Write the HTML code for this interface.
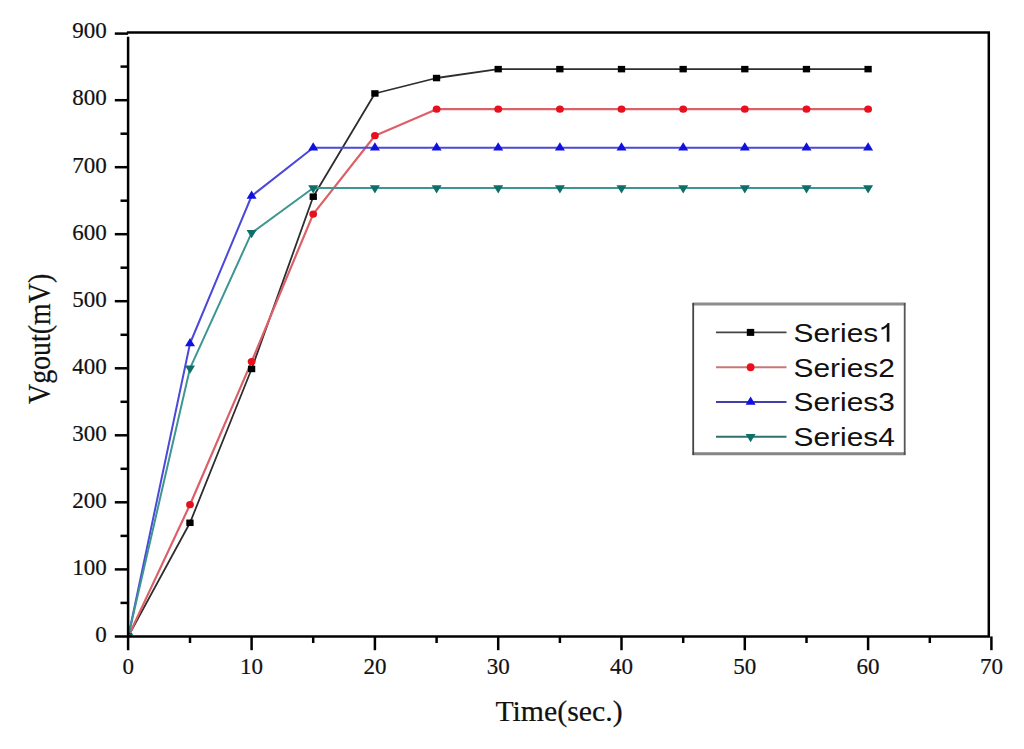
<!DOCTYPE html><html><head><meta charset="utf-8"><style>
html,body{margin:0;padding:0;background:#fff;width:1024px;height:749px;overflow:hidden}
svg{display:block}
.s{font-family:"Liberation Serif",serif;fill:#111;stroke:#111;stroke-width:0.2px}
.a{font-family:"Liberation Sans",sans-serif;fill:#111}
</style></head><body>
<svg width="1024" height="749" viewBox="0 0 1024 749">
<rect width="1024" height="749" fill="#fff"/>
<defs><clipPath id="pc"><rect x="128.1" y="32.5" width="860.7" height="603.9"/></clipPath></defs>
<g clip-path="url(#pc)">
<polyline points="128.3,636.4 190.0,522.8 251.6,369.0 313.2,196.7 374.9,93.5 436.6,78.0 498.2,69.1 559.9,69.1 621.5,69.1 683.2,69.1 744.8,69.1 806.5,69.1 868.1,69.1" fill="none" stroke="#2e2e2e" stroke-width="1.8" stroke-linejoin="round"/>
<polyline points="128.3,636.4 190.0,504.7 251.6,361.6 313.2,214.1 374.9,135.7 436.6,109.2 498.2,109.2 559.9,109.2 621.5,109.2 683.2,109.2 744.8,109.2 806.5,109.2 868.1,109.2" fill="none" stroke="#dc6068" stroke-width="2.2" stroke-linejoin="round"/>
<polyline points="128.3,636.4 190.0,343.5 251.6,196.0 313.2,147.8 374.9,147.8 436.6,147.8 498.2,147.8 559.9,147.8 621.5,147.8 683.2,147.8 744.8,147.8 806.5,147.8 868.1,147.8" fill="none" stroke="#4c48da" stroke-width="2.0" stroke-linejoin="round"/>
<polyline points="128.3,636.4 190.0,368.3 251.6,232.9 313.2,188.0 374.9,188.0 436.6,188.0 498.2,188.0 559.9,188.0 621.5,188.0 683.2,188.0 744.8,188.0 806.5,188.0 868.1,188.0" fill="none" stroke="#3e9692" stroke-width="2.0" stroke-linejoin="round"/>
<rect x="124.65" y="633.15" width="7.3" height="6.5" fill="#000"/>
<rect x="186.30" y="519.53" width="7.3" height="6.5" fill="#000"/>
<rect x="247.95" y="365.70" width="7.3" height="6.5" fill="#000"/>
<rect x="309.60" y="193.43" width="7.3" height="6.5" fill="#000"/>
<rect x="371.25" y="90.21" width="7.3" height="6.5" fill="#000"/>
<rect x="432.90" y="74.79" width="7.3" height="6.5" fill="#000"/>
<rect x="494.55" y="65.88" width="7.3" height="6.5" fill="#000"/>
<rect x="556.20" y="65.88" width="7.3" height="6.5" fill="#000"/>
<rect x="617.85" y="65.88" width="7.3" height="6.5" fill="#000"/>
<rect x="679.50" y="65.88" width="7.3" height="6.5" fill="#000"/>
<rect x="741.15" y="65.88" width="7.3" height="6.5" fill="#000"/>
<rect x="802.80" y="65.88" width="7.3" height="6.5" fill="#000"/>
<rect x="864.45" y="65.88" width="7.3" height="6.5" fill="#000"/>
<ellipse cx="128.3" cy="636.4" rx="3.9" ry="3.6" fill="#e8101c"/>
<ellipse cx="190.0" cy="504.7" rx="3.9" ry="3.6" fill="#e8101c"/>
<ellipse cx="251.6" cy="361.6" rx="3.9" ry="3.6" fill="#e8101c"/>
<ellipse cx="313.2" cy="214.1" rx="3.9" ry="3.6" fill="#e8101c"/>
<ellipse cx="374.9" cy="135.7" rx="3.9" ry="3.6" fill="#e8101c"/>
<ellipse cx="436.6" cy="109.2" rx="3.9" ry="3.6" fill="#e8101c"/>
<ellipse cx="498.2" cy="109.2" rx="3.9" ry="3.6" fill="#e8101c"/>
<ellipse cx="559.9" cy="109.2" rx="3.9" ry="3.6" fill="#e8101c"/>
<ellipse cx="621.5" cy="109.2" rx="3.9" ry="3.6" fill="#e8101c"/>
<ellipse cx="683.2" cy="109.2" rx="3.9" ry="3.6" fill="#e8101c"/>
<ellipse cx="744.8" cy="109.2" rx="3.9" ry="3.6" fill="#e8101c"/>
<ellipse cx="806.5" cy="109.2" rx="3.9" ry="3.6" fill="#e8101c"/>
<ellipse cx="868.1" cy="109.2" rx="3.9" ry="3.6" fill="#e8101c"/>
<path d="M123.3,639.1L133.3,639.1L128.3,630.9Z" fill="#1010e0"/>
<path d="M185.0,346.2L195.0,346.2L190.0,338.0Z" fill="#1010e0"/>
<path d="M246.6,198.7L256.6,198.7L251.6,190.5Z" fill="#1010e0"/>
<path d="M308.2,150.5L318.2,150.5L313.2,142.3Z" fill="#1010e0"/>
<path d="M369.9,150.5L379.9,150.5L374.9,142.3Z" fill="#1010e0"/>
<path d="M431.6,150.5L441.6,150.5L436.6,142.3Z" fill="#1010e0"/>
<path d="M493.2,150.5L503.2,150.5L498.2,142.3Z" fill="#1010e0"/>
<path d="M554.9,150.5L564.9,150.5L559.9,142.3Z" fill="#1010e0"/>
<path d="M616.5,150.5L626.5,150.5L621.5,142.3Z" fill="#1010e0"/>
<path d="M678.2,150.5L688.2,150.5L683.2,142.3Z" fill="#1010e0"/>
<path d="M739.8,150.5L749.8,150.5L744.8,142.3Z" fill="#1010e0"/>
<path d="M801.5,150.5L811.5,150.5L806.5,142.3Z" fill="#1010e0"/>
<path d="M863.1,150.5L873.1,150.5L868.1,142.3Z" fill="#1010e0"/>
<path d="M123.3,633.7L133.3,633.7L128.3,641.9Z" fill="#0e6e68"/>
<path d="M185.0,365.5L195.0,365.5L190.0,373.7Z" fill="#0e6e68"/>
<path d="M246.6,230.1L256.6,230.1L251.6,238.3Z" fill="#0e6e68"/>
<path d="M308.2,185.2L318.2,185.2L313.2,193.4Z" fill="#0e6e68"/>
<path d="M369.9,185.2L379.9,185.2L374.9,193.4Z" fill="#0e6e68"/>
<path d="M431.6,185.2L441.6,185.2L436.6,193.4Z" fill="#0e6e68"/>
<path d="M493.2,185.2L503.2,185.2L498.2,193.4Z" fill="#0e6e68"/>
<path d="M554.9,185.2L564.9,185.2L559.9,193.4Z" fill="#0e6e68"/>
<path d="M616.5,185.2L626.5,185.2L621.5,193.4Z" fill="#0e6e68"/>
<path d="M678.2,185.2L688.2,185.2L683.2,193.4Z" fill="#0e6e68"/>
<path d="M739.8,185.2L749.8,185.2L744.8,193.4Z" fill="#0e6e68"/>
<path d="M801.5,185.2L811.5,185.2L806.5,193.4Z" fill="#0e6e68"/>
<path d="M863.1,185.2L873.1,185.2L868.1,193.4Z" fill="#0e6e68"/>
</g>
<line x1="126.9" y1="32.5" x2="990.0" y2="32.5" stroke="#000" stroke-width="2.5"/>
<line x1="988.8" y1="32.5" x2="988.8" y2="636.4" stroke="#000" stroke-width="2.5"/>
<line x1="114.8" y1="636.4" x2="990.0" y2="636.4" stroke="#000" stroke-width="2.5"/>
<line x1="128.1" y1="36.8" x2="128.1" y2="650.2" stroke="#000" stroke-width="2.5"/>
<line x1="114.8" y1="33.6" x2="128.1" y2="33.6" stroke="#000" stroke-width="2.5"/>
<line x1="120.5" y1="602.9" x2="128.1" y2="602.9" stroke="#000" stroke-width="2.5"/>
<line x1="114.8" y1="569.4" x2="128.1" y2="569.4" stroke="#000" stroke-width="2.5"/>
<line x1="120.5" y1="535.9" x2="128.1" y2="535.9" stroke="#000" stroke-width="2.5"/>
<line x1="114.8" y1="502.3" x2="128.1" y2="502.3" stroke="#000" stroke-width="2.5"/>
<line x1="120.5" y1="468.8" x2="128.1" y2="468.8" stroke="#000" stroke-width="2.5"/>
<line x1="114.8" y1="435.3" x2="128.1" y2="435.3" stroke="#000" stroke-width="2.5"/>
<line x1="120.5" y1="401.8" x2="128.1" y2="401.8" stroke="#000" stroke-width="2.5"/>
<line x1="114.8" y1="368.3" x2="128.1" y2="368.3" stroke="#000" stroke-width="2.5"/>
<line x1="120.5" y1="334.8" x2="128.1" y2="334.8" stroke="#000" stroke-width="2.5"/>
<line x1="114.8" y1="301.2" x2="128.1" y2="301.2" stroke="#000" stroke-width="2.5"/>
<line x1="120.5" y1="267.7" x2="128.1" y2="267.7" stroke="#000" stroke-width="2.5"/>
<line x1="114.8" y1="234.2" x2="128.1" y2="234.2" stroke="#000" stroke-width="2.5"/>
<line x1="120.5" y1="200.7" x2="128.1" y2="200.7" stroke="#000" stroke-width="2.5"/>
<line x1="114.8" y1="167.2" x2="128.1" y2="167.2" stroke="#000" stroke-width="2.5"/>
<line x1="120.5" y1="133.7" x2="128.1" y2="133.7" stroke="#000" stroke-width="2.5"/>
<line x1="114.8" y1="100.2" x2="128.1" y2="100.2" stroke="#000" stroke-width="2.5"/>
<line x1="120.5" y1="66.6" x2="128.1" y2="66.6" stroke="#000" stroke-width="2.5"/>
<text class="s" x="106.8" y="642.4" font-size="23" text-anchor="end">0</text>
<text class="s" x="106.8" y="575.2" font-size="23" text-anchor="end">100</text>
<text class="s" x="106.8" y="508.1" font-size="23" text-anchor="end">200</text>
<text class="s" x="106.8" y="441.0" font-size="23" text-anchor="end">300</text>
<text class="s" x="106.8" y="373.9" font-size="23" text-anchor="end">400</text>
<text class="s" x="106.8" y="306.8" font-size="23" text-anchor="end">500</text>
<text class="s" x="106.8" y="239.7" font-size="23" text-anchor="end">600</text>
<text class="s" x="106.8" y="172.6" font-size="23" text-anchor="end">700</text>
<text class="s" x="106.8" y="105.4" font-size="23" text-anchor="end">800</text>
<text class="s" x="106.8" y="38.3" font-size="23" text-anchor="end">900</text>
<line x1="190.0" y1="636.4" x2="190.0" y2="643.0" stroke="#000" stroke-width="2.5"/>
<line x1="251.6" y1="636.4" x2="251.6" y2="650.2" stroke="#000" stroke-width="2.5"/>
<line x1="313.2" y1="636.4" x2="313.2" y2="643.0" stroke="#000" stroke-width="2.5"/>
<line x1="374.9" y1="636.4" x2="374.9" y2="650.2" stroke="#000" stroke-width="2.5"/>
<line x1="436.6" y1="636.4" x2="436.6" y2="643.0" stroke="#000" stroke-width="2.5"/>
<line x1="498.2" y1="636.4" x2="498.2" y2="650.2" stroke="#000" stroke-width="2.5"/>
<line x1="559.9" y1="636.4" x2="559.9" y2="643.0" stroke="#000" stroke-width="2.5"/>
<line x1="621.5" y1="636.4" x2="621.5" y2="650.2" stroke="#000" stroke-width="2.5"/>
<line x1="683.2" y1="636.4" x2="683.2" y2="643.0" stroke="#000" stroke-width="2.5"/>
<line x1="744.8" y1="636.4" x2="744.8" y2="650.2" stroke="#000" stroke-width="2.5"/>
<line x1="806.5" y1="636.4" x2="806.5" y2="643.0" stroke="#000" stroke-width="2.5"/>
<line x1="868.1" y1="636.4" x2="868.1" y2="650.2" stroke="#000" stroke-width="2.5"/>
<line x1="929.8" y1="636.4" x2="929.8" y2="643.0" stroke="#000" stroke-width="2.5"/>
<line x1="991.4" y1="636.4" x2="991.4" y2="650.2" stroke="#000" stroke-width="2.5"/>
<text class="s" x="128.3" y="673.8" font-size="23" text-anchor="middle">0</text>
<text class="s" x="251.6" y="673.8" font-size="23" text-anchor="middle">10</text>
<text class="s" x="374.9" y="673.8" font-size="23" text-anchor="middle">20</text>
<text class="s" x="498.2" y="673.8" font-size="23" text-anchor="middle">30</text>
<text class="s" x="621.5" y="673.8" font-size="23" text-anchor="middle">40</text>
<text class="s" x="744.8" y="673.8" font-size="23" text-anchor="middle">50</text>
<text class="s" x="868.1" y="673.8" font-size="23" text-anchor="middle">60</text>
<text class="s" x="991.4" y="673.8" font-size="23" text-anchor="middle">70</text>
<text class="s" x="559" y="721.3" font-size="29.8" text-anchor="middle">Time(sec.)</text>
<text class="s" transform="translate(50,338.9) rotate(-90) scale(0.9,1)" x="0" y="0" font-size="31" text-anchor="middle">Vgout(mV)</text>
<rect x="694" y="304" width="211" height="150" fill="#fff"/>
<line x1="692.5" y1="304.0" x2="905.5" y2="304.0" stroke="#8c8c8c" stroke-width="3.0"/>
<line x1="692.5" y1="453.8" x2="905.5" y2="453.8" stroke="#858585" stroke-width="3.0"/>
<line x1="693.2" y1="303.0" x2="693.2" y2="455.0" stroke="#444" stroke-width="1.8"/>
<line x1="904.7" y1="303.0" x2="904.7" y2="455.0" stroke="#555" stroke-width="1.8"/>
<line x1="716.0" y1="332.4" x2="786.5" y2="332.4" stroke="#444" stroke-width="1.9"/>
<rect x="746.80" y="328.90" width="7.4" height="7.0" fill="#000"/>
<g transform="translate(793.5,341.8) scale(1.137,1)"><text class="a" x="0" y="0" font-size="26.3">Series</text><path fill="#111" transform="translate(74.55,0) scale(0.01284,-0.01284)" d="M763,0L583,0L583,1147Q518,1085 412,1023Q306,961 221,930L221,1104Q372,1175 485,1276Q598,1377 645,1472L763,1472Z"/></g>
<line x1="716.0" y1="367.2" x2="786.5" y2="367.2" stroke="#c87878" stroke-width="1.9"/>
<ellipse cx="750.6" cy="367.2" rx="3.9" ry="4.0" fill="#e8101c"/>
<text class="a" transform="translate(793.5,376.6) scale(1.137,1)" x="0" y="0" font-size="26.3">Series2</text>
<line x1="716.0" y1="402.0" x2="786.5" y2="402.0" stroke="#4040a8" stroke-width="1.9"/>
<path d="M745.6,404.7L755.6,404.7L750.6,396.5Z" fill="#1010e0"/>
<text class="a" transform="translate(793.5,411.4) scale(1.137,1)" x="0" y="0" font-size="26.3">Series3</text>
<line x1="716.0" y1="436.8" x2="786.5" y2="436.8" stroke="#2e7070" stroke-width="1.9"/>
<path d="M745.6,434.1L755.6,434.1L750.6,442.3Z" fill="#0e6e68"/>
<text class="a" transform="translate(793.5,446.2) scale(1.137,1)" x="0" y="0" font-size="26.3">Series4</text>
</svg></body></html>
